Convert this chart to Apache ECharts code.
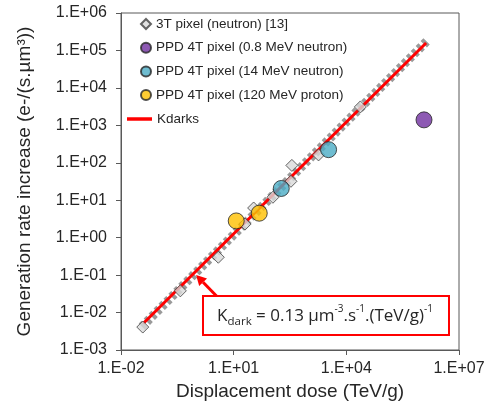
<!DOCTYPE html>
<html>
<head>
<meta charset="utf-8">
<script src="https://cdn.jsdelivr.net/npm/echarts@6/dist/echarts.min.js"></script>
<style>
html, body { margin: 0; padding: 0; background: #fff; }
#chart { width: 493px; height: 411px; }
</style>
</head>
<body>
<div id="chart"></div>
<script>
// values (dose TeV/g, rate e-/(s.um3))
const pixel3T = [[0.038, 0.0041], [0.38, 0.038], [3.9, 0.30], [20, 2.3], [34, 6.2],
  [111, 12], [335, 32], [355, 85], [1820, 162], [23600, 3100]]
const ppd08 = [[1.17e6, 1400]]
const ppd14 = [[185, 20.6], [3370, 224]]
const ppd120 = [[11.7, 2.8], [48, 4.5]]
const kdarkLine = [[0.039, 0.0051], [1.33e6, 158000]]
const fitLine = [[0.036, 0.0042], [1.38e6, 175000]]
const arrowTip = [1.0, 0.1]

const names = ['3T pixel (neutron) [13]', 'PPD 4T pixel (0.8 MeV neutron)',
  'PPD 4T pixel (14 MeV neutron)', 'PPD 4T pixel (120 MeV proton)', 'Kdarks']

const FONT = '"Liberation Sans", Arial, sans-serif'
const INK = '#262626'
const AX = '#595959'

function sciLabel(v) {
  const e = Math.round(Math.log10(v))
  return '1.E' + (e < 0 ? '-' : '+') + String(Math.abs(e)).padStart(2, '0')
}

const chart = echarts.init(document.getElementById('chart'), null, { renderer: 'canvas' })

const circle = (color) => ({ color, borderColor: INK, borderWidth: 1 })
const legendText = { fontFamily: FONT, fontSize: 13.5, color: INK, lineHeight: 14 }

chart.setOption({
  animation: false,
  backgroundColor: '#fff',
  textStyle: { fontFamily: FONT },
  grid: { left: 121, right: 34, top: 13, bottom: 61, show: true, borderColor: AX, borderWidth: 1 },
  legend: [
    {
      data: [
        { name: names[0], icon: 'diamond' },
        { name: names[1], icon: 'circle' },
        { name: names[2], icon: 'circle' },
        { name: names[3], icon: 'circle' },
      ],
      orient: 'vertical', left: 140, top: 17, padding: 0, symbolKeepAspect: true,
      itemWidth: 10, itemHeight: 10, itemGap: 9.7, selectedMode: false,
      textStyle: legendText,
    },
    {
      data: [{ name: names[4], icon: 'rect' }],
      orient: 'vertical', left: 127, top: 112, padding: 0,
      itemWidth: 25, itemHeight: 3.5, selectedMode: false,
      textStyle: legendText,
    },
  ],
  xAxis: {
    type: 'log', logBase: 10, min: 0.01, max: 1e7, interval: 3,
    name: 'Displacement dose (TeV/g)', nameLocation: 'middle', nameGap: 30,
    nameTextStyle: { fontFamily: FONT, fontSize: 19, color: INK },
    axisLine: { lineStyle: { color: AX, width: 1 } },
    axisTick: { show: true, length: 5, lineStyle: { color: AX } },
    axisLabel: { fontFamily: FONT, fontSize: 16, color: INK, margin: 11, formatter: sciLabel },
    splitLine: { show: false },
    minorTick: { show: false },
  },
  yAxis: {
    type: 'log', logBase: 10, min: 0.001, max: 1e6, interval: 1,
    name: 'Generation rate increase (e-/(s.µm³))', nameLocation: 'middle', nameRotate: 90, nameGap: 87,
    nameTextStyle: { fontFamily: FONT, fontSize: 19, color: INK },
    axisLine: { show: true, lineStyle: { color: AX, width: 1 } },
    axisTick: { show: true, length: 5, lineStyle: { color: AX } },
    axisLabel: { fontFamily: FONT, fontSize: 16, color: INK, margin: 14, formatter: sciLabel },
    splitLine: { show: false },
    minorTick: { show: false },
  },
  series: [
    {
      name: 'fit', type: 'line', data: fitLine, symbol: 'none', silent: true, z: 1,
      lineStyle: { color: '#9a9a9a', width: 9, type: [4, 3] },
    },
    {
      name: names[4], type: 'line', data: kdarkLine, symbol: 'none', silent: true, z: 2,
      lineStyle: { color: '#ff0000', width: 3 }, itemStyle: { color: '#ff0000' },
    },
    {
      name: names[0], type: 'scatter', data: pixel3T, symbol: 'diamond', symbolSize: 12, z: 3,
      itemStyle: { color: '#d9d9d9', borderColor: '#404040', borderWidth: 1 },
    },
    { name: names[1], type: 'scatter', data: ppd08, symbolSize: 16, z: 4, itemStyle: circle('#7030a0') },
    { name: names[2], type: 'scatter', data: ppd14, symbolSize: 16, z: 4, itemStyle: circle('#4bacc6') },
    { name: names[3], type: 'scatter', data: ppd120, symbolSize: 16, z: 4, itemStyle: circle('#ffc000') },
  ],
})

// annotation box with arrow pointing at the Kdarks line
const tip = chart.convertToPixel({ gridIndex: 0 }, arrowTip)
const start = [216.5, 296]
const dx = tip[0] - start[0], dy = tip[1] - start[1]
const len = Math.hypot(dx, dy)
const ux = dx / len, uy = dy / len
const hl = 10, hw = 5.5
const base = [tip[0] - ux * hl, tip[1] - uy * hl]
const AFONT = '"Open Sans", sans-serif'

chart.setOption({
  graphic: [
    {
      type: 'line', z: 10,
      shape: { x1: start[0], y1: start[1], x2: base[0], y2: base[1] },
      style: { stroke: '#ff0000', lineWidth: 3 },
    },
    {
      type: 'polygon', z: 10,
      shape: { points: [tip, [base[0] - uy * hw, base[1] + ux * hw], [base[0] + uy * hw, base[1] - ux * hw]] },
      style: { fill: '#ff0000' },
    },
    {
      type: 'rect', z: 11,
      shape: { x: 203, y: 296, width: 246, height: 39 },
      style: { fill: '#fff', stroke: '#ff0000', lineWidth: 2 },
    },
    {
      type: 'text', z: 12, x: 325, y: 316,
      style: {
        text: 'K{sub|dark} = 0.13 µm{sup|-3}.s{sup|-1}.(TeV/g){sup|-1}',
        align: 'center', verticalAlign: 'middle',
        fontFamily: AFONT, fontSize: 17, lineHeight: 24, fill: INK,
        rich: {
          sub: { fontFamily: AFONT, fontSize: 11.5, lineHeight: 11, verticalAlign: 'bottom', fill: INK },
          sup: { fontFamily: AFONT, fontSize: 10, lineHeight: 12, verticalAlign: 'top', fill: INK },
        },
      },
    },
  ],
})

window.addEventListener('resize', () => chart.resize())
</script>
</body>
</html>
